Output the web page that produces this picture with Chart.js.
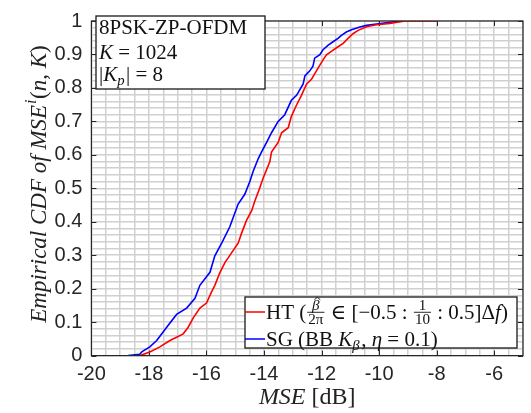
<!DOCTYPE html>
<html><head><meta charset="utf-8">
<script src="https://cdn.jsdelivr.net/npm/chart.js@4/dist/chart.umd.min.js"></script>
<style>html,body{margin:0;padding:0;background:#fff}#c{display:block}</style>
</head><body>
<canvas id="c" width="531" height="413"></canvas>
<script>
// ---- data ----
const htMSE = [-18.31,-17.97,-17.62,-17.27,-17.04,-16.81,-16.64,-16.46,-16.23,-16.00,-15.82,-15.71,-15.53,-15.36,-15.13,-14.90,-14.78,-14.61,-14.43,-14.32,-14.15,-14.03,-13.80,-13.74,-13.51,-13.39,-13.16,-13.05,-12.87,-12.70,-12.52,-12.35,-12.18,-11.95,-11.83,-11.66,-11.43,-11.25,-11.08,-10.91,-10.73,-10.44,-10.09,-9.63,-9.10,-8.00];
const htCDF = [0,0.011,0.026,0.045,0.055,0.065,0.084,0.113,0.142,0.157,0.191,0.21,0.249,0.278,0.307,0.336,0.366,0.404,0.433,0.462,0.501,0.531,0.579,0.608,0.637,0.666,0.681,0.715,0.749,0.778,0.812,0.826,0.851,0.884,0.899,0.909,0.923,0.933,0.948,0.962,0.972,0.983,0.989,0.993,1,1];
const sgMSE = [-18.72,-18.32,-18.25,-17.97,-17.73,-17.39,-17.04,-16.69,-16.40,-16.23,-15.88,-15.71,-15.45,-15.19,-14.90,-14.67,-14.49,-14.38,-14.20,-14.09,-13.91,-13.74,-13.51,-13.28,-13.05,-12.87,-12.64,-12.58,-12.41,-12.30,-12.24,-12.06,-11.95,-11.77,-11.60,-11.43,-11.31,-11.14,-10.96,-10.67,-10.44,-10.09,-9.63,-9.28];
const sgCDF = [0,0.004,0.011,0.026,0.045,0.084,0.123,0.142,0.171,0.21,0.249,0.298,0.34,0.385,0.453,0.482,0.521,0.55,0.589,0.608,0.637,0.666,0.70,0.72,0.763,0.778,0.812,0.836,0.851,0.865,0.889,0.899,0.914,0.928,0.938,0.948,0.957,0.967,0.974,0.982,0.987,0.991,0.996,1];
const xTickLabels = ['-20','-18','-16','-14','-12','-10','-8','-6'];
const yTickLabels = ['0','0.1','0.2','0.3','0.4','0.5','0.6','0.7','0.8','0.9','1'];
const seriesNames = ['HT','SG'];
const infoLines = ['8PSK-ZP-OFDM','K = 1024','|K_p| = 8'];

// ---- rich text helper ----
const SERIF = '"Liberation Serif","DejaVu Serif",serif';
function fnt(size, it){ return (it?'italic ':'') + size + 'px ' + SERIF; }
function segWidth(ctx, s, size){
  if (s.frac){ const fs=size*0.72; ctx.font=fnt(fs,s.ni); const a=ctx.measureText(s.frac[0]).width; ctx.font=fnt(fs,s.di); const b=ctx.measureText(s.frac[1]).width; return Math.max(a,b)+4; }
  if (s.sub!==undefined || s.sup!==undefined){ ctx.font=fnt(size*0.7,s.i); return ctx.measureText(s.sub!==undefined?s.sub:s.sup).width+1.5; }
  ctx.font=fnt(size,s.i); return ctx.measureText(s.t).width;
}
function richWidth(ctx, segs, size){ return segs.reduce((w,s)=>w+segWidth(ctx,s,size),0); }
function drawRich(ctx, segs, x, y, size){
  ctx.textBaseline='alphabetic'; ctx.textAlign='left';
  for (const s of segs){
    const w = segWidth(ctx,s,size);
    if (s.frac){
      const fs=size*0.72, bar=y-size*0.3;
      ctx.font=fnt(fs,s.ni); const a=ctx.measureText(s.frac[0]).width;
      const nx=x+(w-a)/2, nb=bar-2;
      ctx.fillText(s.frac[0], nx, nb);
      if (s.hat){ // small circumflex accent over the numerator
        const cx=nx+a/2+1.5, ty=nb-fs*0.82;
        ctx.save(); ctx.strokeStyle=ctx.fillStyle; ctx.lineWidth=0.9;
        ctx.beginPath(); ctx.moveTo(cx-3,ty+2); ctx.lineTo(cx,ty-0.5); ctx.lineTo(cx+3,ty+2); ctx.stroke(); ctx.restore();
      }
      ctx.font=fnt(fs,s.di); const b=ctx.measureText(s.frac[1]).width;
      ctx.fillText(s.frac[1], x+(w-b)/2, bar+1.5+fs*0.7);
      ctx.fillRect(x+1, bar-0.4, w-2, 0.9);
    } else if (s.sub!==undefined){
      ctx.font=fnt(size*0.7,s.i); ctx.fillText(s.sub, x, y+size*0.22);
    } else if (s.sup!==undefined){
      ctx.font=fnt(size*0.7,s.i); ctx.fillText(s.sup, x+1, y-size*0.42);
    } else { ctx.font=fnt(size,s.i); ctx.fillText(s.t, x, y); }
    x += w;
  }
}

const legendRows = [
  [{t:seriesNames[0]+' ('},{frac:['\u03B2','2\u03C0'],ni:true,di:false,hat:true},{t:' \u2208 [\u22120.5 : '},{frac:['1','10']},{t:' : 0.5]\u0394'},{t:'f',i:true},{t:')'}],
  [{t:seriesNames[1]+' (BB '},{t:'K',i:true},{sub:'\u03B2',i:true},{t:', '},{t:'\u03B7',i:true},{t:' = 0.1)'}]
];
const infoRows = [
  [{t:infoLines[0]}],
  [{t:'K',i:true},{t:' = 1024'}],
  [{t:'|'},{t:'K',i:true},{sub:'p',i:true},{t:'| = 8'}]
];
const yTitle = [{t:'Empirical CDF of MSE',i:true},{sup:'i',i:true},{t:'(',i:false},{t:'n',i:true},{t:', ',i:false},{t:'K',i:true},{t:')'}];
const xTitle = [{t:'MSE',i:true},{t:' [dB]'}];

const decor = {
  id:'decor',
  beforeDatasetsDraw(chart){
    const {ctx, chartArea:a, scales:{x,y}} = chart;
    ctx.save();
    ctx.strokeStyle='#262626'; ctx.lineWidth=1;
    ctx.beginPath();
    for (const l of xTickLabels){ const px=Math.round(x.getPixelForValue(+l))+0.5; ctx.moveTo(px,a.bottom); ctx.lineTo(px,a.bottom-5); ctx.moveTo(px,a.top); ctx.lineTo(px,a.top+5); }
    for (const l of yTickLabels){ const py=Math.round(y.getPixelForValue(+l))+0.5; ctx.moveTo(a.left,py); ctx.lineTo(a.left+5,py); ctx.moveTo(a.right,py); ctx.lineTo(a.right-5,py); }
    ctx.stroke();
    ctx.restore();
  },
  afterDatasetsDraw(chart){
    const {ctx, chartArea:a} = chart;
    ctx.save();
    ctx.strokeStyle='#262626'; ctx.lineWidth=1.2;
    ctx.strokeRect(a.left, a.top, a.right-a.left, a.bottom-a.top);
    // info box
    ctx.fillStyle='#fff'; ctx.fillRect(96,16,169,73);
    ctx.strokeStyle='#1a1a1a'; ctx.lineWidth=1.3; ctx.strokeRect(96,16,169,73);
    ctx.fillStyle='#111';
    drawRich(ctx, infoRows[0], 99, 33.5, 21);
    drawRich(ctx, infoRows[1], 99, 58.5, 21);
    drawRich(ctx, infoRows[2], 99, 80.5, 21);
    // legend
    ctx.fillStyle='#fff'; ctx.fillRect(245,297,272,51);
    ctx.strokeRect(245,297,272,51);
    const cols=['#ff0000','#0000ff']; const ly=[312,339]; const by=[318.5,345.5];
    for (let i=0;i<2;i++){
      ctx.strokeStyle=cols[i]; ctx.lineWidth=1.5; ctx.beginPath(); ctx.moveTo(245,ly[i]); ctx.lineTo(265,ly[i]); ctx.stroke();
      ctx.fillStyle='#111'; drawRich(ctx, legendRows[i], 266, by[i], 21);
    }
    // axis titles
    ctx.fillStyle='#222';
    const xw = richWidth(ctx,xTitle,24);
    drawRich(ctx, xTitle, (a.left+a.right)/2 - xw/2, 404, 24);
    ctx.translate(46, 184); ctx.rotate(-Math.PI/2);
    const yw = richWidth(ctx,yTitle,23);
    drawRich(ctx, yTitle, -yw/2, 0, 23);
    ctx.restore();
  }
};

const toPts = (xs, ys) => xs.map((v,i)=>({x:v, y:ys[i]}));
new Chart(document.getElementById('c'), {
  type:'line',
  data:{ datasets:[
    {label:seriesNames[0], data:toPts(htMSE,htCDF), borderColor:'#ff0000', borderWidth:1.6, pointRadius:0, tension:0, fill:false},
    {label:seriesNames[1], data:toPts(sgMSE,sgCDF), borderColor:'#0000ff', borderWidth:1.6, pointRadius:0, tension:0, fill:false}
  ]},
  options:{
    responsive:false, animation:false, devicePixelRatio:1,
    layout:{padding:{left:0,right:8,top:12,bottom:0}},
    plugins:{legend:{display:false}, tooltip:{enabled:false}},
    scales:{
      x:{type:'linear', min:-20, max:-5,
        afterBuildTicks(s){ const t=[]; for(let k=0;k<=30;k++) t.push({value:-20+k*0.5}); s.ticks=t; },
        afterFit(s){ s.height = 57.4; },
        ticks:{autoSkip:false, maxRotation:0, padding:7, color:'#262626',
          font:{family:'"Liberation Sans",Arial,sans-serif', size:20},
          callback(v){ const s=String(Math.round(v*10)/10); return xTickLabels.includes(s)?s:''; }},
        grid:{color:'#d0d0d0', lineWidth:1.5, drawTicks:false}, border:{display:false}
      },
      y:{min:0, max:1,
        afterBuildTicks(s){ const t=[]; for(let k=0;k<=50;k++) t.push({value:k/50}); s.ticks=t; },
        afterFit(s){ s.width = 91.4; },
        ticks:{autoSkip:false, padding:9, color:'#262626',
          font:{family:'"Liberation Sans",Arial,sans-serif', size:20},
          callback(v){ const s=String(Math.round(v*100)/100); return yTickLabels.includes(s)?s:''; }},
        grid:{color:'#d0d0d0', lineWidth:1.5, drawTicks:false}, border:{display:false}
      }
    }
  },
  plugins:[decor]
});
</script>
</body></html>
